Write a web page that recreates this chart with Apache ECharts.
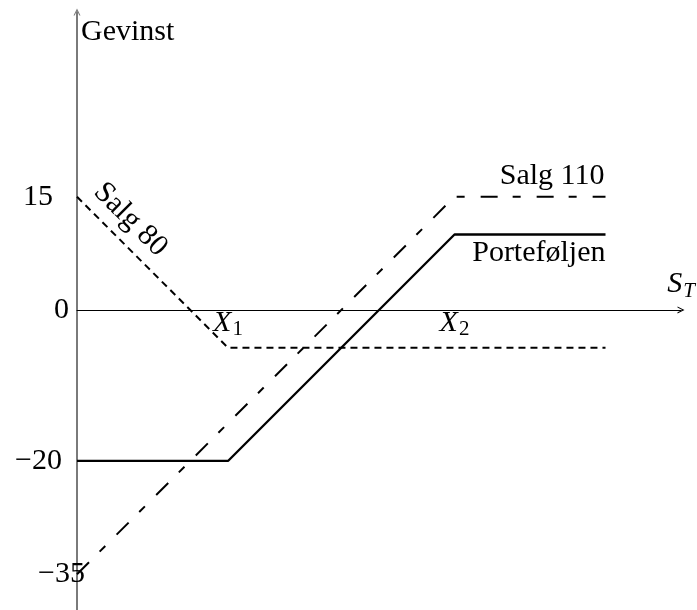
<!DOCTYPE html>
<html>
<head>
<meta charset="utf-8">
<style>
  html, body { margin: 0; padding: 0; background: #fff; }
  #chart { width: 697px; height: 610px; }
</style>
<script src="https://cdn.jsdelivr.net/npm/echarts@6/dist/echarts.min.js"></script>
</head>
<body>
<div id="chart"></div>
<script>
// Stock price at expiry (S_T) where the payoff lines bend
const stockPrice = [0, 20, 50, 70];
// Profit of each position at those prices
const salg80 = [15, -5, -5, -5];
const salg110 = [-35, -15, 15, 15];
const portefoljen = [-20, -20, 10, 10];
// Profit values marked on the vertical axis
const profitTicks = [15, 0, -20, -35];
// Strike prices on the horizontal axis and their subscripts
const strikeTicks = [20, 50];
const strikeNames = ['1', '2'];

const FONT = '"Liberation Serif", "Times New Roman", serif';
const chevron = 'path://M0,10 L5,0 L10,10 L8.4,10 L5,3.2 L1.6,10 Z';

function pairs(ys) {
  return stockPrice.map((x, i) => [x, ys[i]]);
}

// Salg 80: label written along the falling part of the line
const salg80Data = pairs(salg80);
salg80Data[0] = {
  value: salg80Data[0],
  label: {
    show: true, formatter: 'Salg 80', position: 'inside', rotate: -45,
    align: 'center', verticalAlign: 'middle', offset: [54, -21.6],
    fontFamily: FONT, fontSize: 30, color: '#000'
  }
};

// Salg 110: name above the right end
const salg110Data = pairs(salg110);
const last = stockPrice.length - 1;
salg110Data[last] = {
  value: salg110Data[last],
  label: {
    show: true, formatter: 'Salg 110', position: 'top', distance: 5,
    align: 'right', offset: [-1, 0],
    fontFamily: FONT, fontSize: 30, color: '#000'
  }
};

// Porteføljen: name below the right end
const portData = pairs(portefoljen);
portData[last] = {
  value: portData[last],
  label: {
    show: true, formatter: 'Porteføljen', position: 'bottom', distance: 3,
    align: 'right', offset: [0, 0],
    fontFamily: FONT, fontSize: 30, color: '#000'
  }
};

const subRich = {
  v: { fontFamily: FONT, fontStyle: 'italic', fontSize: 30, color: '#000', verticalAlign: 'middle' },
  s: { fontFamily: FONT, fontStyle: 'italic', fontSize: 21, color: '#000', verticalAlign: 'middle', padding: [14, 0, 0, 1] },
  n: { fontFamily: FONT, fontSize: 21, color: '#000', verticalAlign: 'middle', padding: [14, 0, 0, 1] }
};

// left padding of each profit label (labels are left aligned)
const profitPad = { '15': 13, '0': 44, '-20': 5, '-35': 28 };
const yRich = {};
profitTicks.forEach(v => {
  yRich['p' + (v < 0 ? 'm' + (-v) : v)] = {
    fontFamily: FONT, fontSize: 30, color: '#000', padding: [0, 0, 0, profitPad[String(v)]]
  };
});

const option = {
  animation: false,
  backgroundColor: '#fff',
  grid: { left: 77, right: 16, top: 12, bottom: 0, containLabel: false, outerBoundsMode: 'none' },
  xAxis: {
    type: 'value', min: 0, max: 80,
    splitLine: { show: false },
    axisTick: { show: false },
    axisLabel: { show: false },
    axisLine: {
      onZero: true, symbol: ['none', chevron], symbolSize: [9, 7],
      lineStyle: { color: '#000', width: 1 }
    },
    name: '{v|S}{s|T}', nameLocation: 'end', nameGap: 0, nameMoveOverlap: false,
    nameTextStyle: { align: 'center', verticalAlign: 'bottom', padding: [0, 0, 8, 0], rich: subRich }
  },
  yAxis: {
    type: 'value', min: -39.74, max: 39.47,
    splitLine: { show: false },
    axisTick: { show: false },
    axisLine: {
      onZero: true, symbol: ['none', chevron], symbolSize: [9, 7],
      lineStyle: { color: '#7a7a7a', width: 2 }
    },
    axisLabel: {
      customValues: profitTicks, margin: 67, align: 'left',
      formatter: v => '{p' + (v < 0 ? 'm' + (-v) : v) + '|' + (v < 0 ? '\u2212' + (-v) : v) + '}',
      rich: yRich
    },
    name: 'Gevinst', nameLocation: 'end', nameGap: -20, nameMoveOverlap: false,
    nameTextStyle: { fontFamily: FONT, fontSize: 30, color: '#000', align: 'left', verticalAlign: 'middle', padding: [0, 0, 0, 4] }
  },
  series: [
    {
      name: 'Salg 80', type: 'line', data: salg80Data,
      symbol: 'circle', symbolSize: 1, showSymbol: true,
      itemStyle: { color: 'rgba(0,0,0,0)' },
      lineStyle: { color: '#000', width: 2, type: [7, 5] },
      silent: true, z: 2
    },
    {
      name: 'Salg 110', type: 'line', data: salg110Data,
      symbol: 'circle', symbolSize: 1, showSymbol: true,
      itemStyle: { color: 'rgba(0,0,0,0)' },
      lineStyle: { color: '#000', width: 2, type: [17, 15, 8, 16] },
      silent: true, z: 2
    },
    {
      name: 'Porteføljen', type: 'line', data: portData,
      symbol: 'circle', symbolSize: 1, showSymbol: true,
      itemStyle: { color: 'rgba(0,0,0,0)' },
      lineStyle: { color: '#000', width: 2.3 },
      silent: true, z: 3
    },
    {
      // strike prices X1 and X2, named just under the horizontal axis
      name: 'Innløsningskurs', type: 'scatter',
      data: strikeTicks.map(x => [x, 0]),
      symbol: 'circle', symbolSize: 1,
      itemStyle: { color: 'rgba(0,0,0,0)', opacity: 1 },
      label: {
        show: true, position: 'bottom', distance: 0, offset: [0, -5], opacity: 1,
        color: '#000',
        formatter: p => '{v|X}{n|' + strikeNames[p.dataIndex] + '}',
        rich: subRich
      },
      silent: true, z: 4
    }
  ]
};

const chart = echarts.init(document.getElementById('chart'), null, { renderer: 'canvas' });
chart.setOption(option);
</script>
</body>
</html>
